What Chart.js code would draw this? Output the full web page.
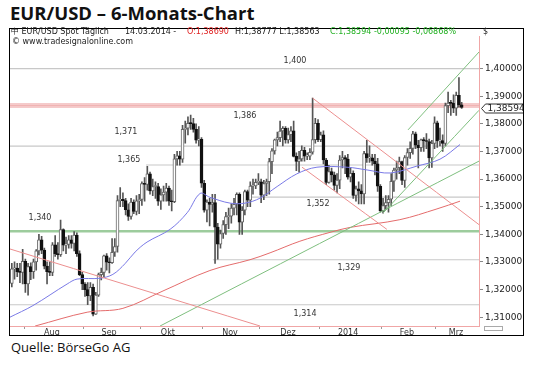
<!DOCTYPE html>
<html>
<head>
<meta charset="utf-8">
<script src="https://cdn.jsdelivr.net/npm/chart.js@4.4.1/dist/chart.umd.min.js"></script>
<style>
  body { margin: 0; width: 540px; height: 365px; background: #fff; position: relative; overflow: hidden; }
  #title { position: absolute; left: 10px; top: 1px; font: 700 18.5px/24px "Open Sans", sans-serif; color: #111; white-space: nowrap; }
  #frame { position: absolute; left: 9px; top: 28px; width: 513px; height: 306px; border: 1px solid #000; }
  #wrap { position: absolute; left: 10px; top: 29px; width: 513px; height: 306px; }
  .hd { position: absolute; font: 8px/10px "DejaVu Sans", sans-serif; color: #222; white-space: nowrap; }
  .red { color: #e02424; }
  .green { color: #22b022; }
  #source { position: absolute; left: 11px; top: 338px; font: 13px/18px "Open Sans", sans-serif; color: #111; white-space: nowrap; }
  #scroll { position: absolute; left: 484px; top: 326px; width: 17px; height: 3px; border: 1px solid #aaa; }
</style>
</head>
<body>
<div id="title">EUR/USD – 6-Monats-Chart</div>
<div id="frame"></div>
<div id="wrap"><canvas id="chart" width="513" height="306"></canvas></div>
<div class="hd" style="left:11px;top:27px;">中 EUR/USD Spot Täglich</div>
<div class="hd" style="left:125px;top:27px;">14.03.2014 -</div>
<div class="hd red" style="left:187px;top:27px;">O:1,38690</div>
<div class="hd" style="left:235px;top:27px;">H:1,38777 L:1,38563</div>
<div class="hd green" style="left:330px;top:27px;">C:1,38594 -0,00095 -0,06868%</div>
<div class="hd" style="left:483px;top:27px;">$</div>
<div class="hd" style="left:12px;top:37px;">© www.tradesignalonline.com</div>
<div id="source">Quelle: BörseGo AG</div>
<div id="scroll"></div>
<script>
// daily candles, 25.07.2013 – 14.03.2014 (index = trading day)
const opens = [
  1.3222,1.3275,1.3278,1.3264,1.3262,1.3302,1.3220,1.3283,1.3265,1.3300,
  1.3340,1.3380,1.3343,1.3285,1.3265,1.3262,1.3362,1.3330,1.3326,1.3417,
  1.3361,1.3363,1.3380,1.3367,1.3397,1.3330,1.3254,1.3220,1.3200,1.3177,
  1.3208,1.3111,1.3180,1.3254,1.3262,1.3322,1.3299,1.3297,1.3335,1.3356,
  1.3522,1.3527,1.3522,1.3489,1.3465,1.3517,1.3483,1.3521,1.3526,1.3584,
  1.3581,1.3619,1.3557,1.3573,1.3573,1.3520,1.3543,1.3553,1.3567,1.3520,
  1.3518,1.3673,1.3684,1.3672,1.3780,1.3784,1.3802,1.3801,1.3780,1.3741,
  1.3744,1.3585,1.3487,1.3517,1.3508,1.3515,1.3426,1.3364,1.3403,1.3435,
  1.3464,1.3466,1.3495,1.3509,1.3545,1.3444,1.3487,1.3555,1.3524,1.3575,
  1.3575,1.3588,1.3590,1.3542,1.3584,1.3591,1.3663,1.3702,1.3742,1.3750,
  1.3774,1.3784,1.3742,1.3761,1.3775,1.3682,1.3664,1.3673,1.3704,1.3683,
  1.3683,1.3697,1.3743,1.3802,1.3743,1.3760,1.3669,1.3588,1.3627,1.3615,
  1.3577,1.3596,1.3669,1.3678,1.3672,1.3607,1.3621,1.3541,1.3565,1.3557,
  1.3546,1.3692,1.3677,1.3677,1.3665,1.3655,1.3574,1.3486,1.3504,1.3515,
  1.3527,1.3592,1.3633,1.3641,1.3663,1.3595,1.3678,1.3696,1.3711,1.3764,
  1.3723,1.3714,1.3742,1.3739,1.3736,1.3677,1.3729,1.3804,1.3738,1.3739,
  1.3729,1.3866,1.3875,1.3874,1.3857,1.3903,1.3869
];
const highs = [
  1.3295,1.3300,1.3295,1.3295,1.3346,1.3310,1.3295,1.3297,1.3310,1.3345,
  1.3400,1.3393,1.3350,1.3300,1.3300,1.3370,1.3395,1.3370,1.3452,1.3420,
  1.3390,1.3395,1.3395,1.3410,1.3405,1.3340,1.3262,1.3225,1.3225,1.3225,
  1.3220,1.3190,1.3260,1.3278,1.3325,1.3330,1.3315,1.3385,1.3385,1.3540,
  1.3569,1.3550,1.3530,1.3510,1.3530,1.3525,1.3540,1.3545,1.3590,1.3605,
  1.3646,1.3625,1.3600,1.3590,1.3585,1.3565,1.3575,1.3585,1.3575,1.3560,
  1.3690,1.3700,1.3700,1.3795,1.3810,1.3825,1.3832,1.3820,1.3800,1.3790,
  1.3750,1.3595,1.3525,1.3530,1.3545,1.3545,1.3440,1.3415,1.3450,1.3480,
  1.3495,1.3510,1.3530,1.3550,1.3550,1.3500,1.3560,1.3560,1.3590,1.3600,
  1.3600,1.3620,1.3600,1.3595,1.3600,1.3675,1.3710,1.3745,1.3770,1.3810,
  1.3790,1.3790,1.3785,1.3790,1.3810,1.3695,1.3700,1.3720,1.3715,1.3695,
  1.3710,1.3893,1.3820,1.3815,1.3770,1.3775,1.3675,1.3650,1.3640,1.3625,
  1.3620,1.3685,1.3700,1.3685,1.3690,1.3640,1.3630,1.3575,1.3590,1.3580,
  1.3700,1.3740,1.3720,1.3690,1.3690,1.3675,1.3580,1.3530,1.3540,1.3540,
  1.3620,1.3640,1.3665,1.3680,1.3665,1.3685,1.3710,1.3735,1.3773,1.3770,
  1.3740,1.3745,1.3750,1.3765,1.3745,1.3740,1.3825,1.3810,1.3785,1.3760,
  1.3875,1.3915,1.3885,1.3905,1.3915,1.3967,1.3878
];
const lows = [
  1.3210,1.3238,1.3247,1.3225,1.3220,1.3190,1.3180,1.3236,1.3240,1.3270,
  1.3325,1.3330,1.3275,1.3220,1.3250,1.3250,1.3320,1.3310,1.3320,1.3340,
  1.3330,1.3350,1.3350,1.3340,1.3320,1.3250,1.3200,1.3175,1.3145,1.3160,
  1.3105,1.3110,1.3175,1.3235,1.3245,1.3270,1.3260,1.3295,1.3320,1.3335,
  1.3500,1.3500,1.3470,1.3450,1.3455,1.3475,1.3470,1.3475,1.3505,1.3520,
  1.3560,1.3545,1.3540,1.3530,1.3505,1.3490,1.3520,1.3520,1.3505,1.3485,
  1.3515,1.3650,1.3650,1.3660,1.3730,1.3760,1.3780,1.3770,1.3730,1.3720,
  1.3570,1.3480,1.3445,1.3430,1.3480,1.3295,1.3310,1.3350,1.3385,1.3400,
  1.3420,1.3440,1.3470,1.3470,1.3400,1.3400,1.3470,1.3500,1.3500,1.3545,
  1.3565,1.3580,1.3515,1.3525,1.3540,1.3545,1.3620,1.3690,1.3720,1.3735,
  1.3720,1.3730,1.3730,1.3735,1.3680,1.3630,1.3625,1.3665,1.3665,1.3670,
  1.3670,1.3690,1.3730,1.3735,1.3735,1.3655,1.3580,1.3585,1.3590,1.3560,
  1.3550,1.3565,1.3640,1.3620,1.3600,1.3590,1.3530,1.3520,1.3510,1.3510,
  1.3510,1.3660,1.3660,1.3650,1.3615,1.3555,1.3480,1.3477,1.3490,1.3480,
  1.3505,1.3555,1.3600,1.3620,1.3580,1.3570,1.3650,1.3675,1.3690,1.3710,
  1.3640,1.3700,1.3700,1.3710,1.3640,1.3642,1.3710,1.3715,1.3720,1.3700,
  1.3720,1.3840,1.3830,1.3840,1.3830,1.3860,1.3856
];
const closes = [
  1.3275,1.3278,1.3264,1.3262,1.3302,1.3220,1.3283,1.3265,1.3300,1.3340,
  1.3380,1.3343,1.3285,1.3265,1.3262,1.3362,1.3330,1.3326,1.3417,1.3361,
  1.3363,1.3380,1.3367,1.3397,1.3330,1.3254,1.3220,1.3200,1.3177,1.3208,
  1.3111,1.3180,1.3254,1.3262,1.3322,1.3299,1.3297,1.3335,1.3356,1.3522,
  1.3527,1.3522,1.3489,1.3465,1.3517,1.3483,1.3521,1.3526,1.3584,1.3581,
  1.3619,1.3557,1.3573,1.3573,1.3520,1.3543,1.3553,1.3567,1.3520,1.3518,
  1.3673,1.3684,1.3672,1.3780,1.3784,1.3802,1.3801,1.3780,1.3741,1.3744,
  1.3585,1.3487,1.3517,1.3508,1.3515,1.3426,1.3364,1.3403,1.3435,1.3464,
  1.3466,1.3495,1.3509,1.3545,1.3444,1.3487,1.3555,1.3524,1.3575,1.3575,
  1.3588,1.3590,1.3542,1.3584,1.3591,1.3663,1.3702,1.3742,1.3750,1.3774,
  1.3784,1.3742,1.3761,1.3775,1.3682,1.3664,1.3673,1.3704,1.3683,1.3683,
  1.3697,1.3743,1.3802,1.3743,1.3760,1.3669,1.3588,1.3627,1.3615,1.3577,
  1.3596,1.3669,1.3678,1.3672,1.3607,1.3621,1.3541,1.3565,1.3557,1.3546,
  1.3692,1.3677,1.3677,1.3665,1.3655,1.3574,1.3486,1.3504,1.3515,1.3527,
  1.3592,1.3633,1.3641,1.3663,1.3595,1.3678,1.3696,1.3711,1.3764,1.3723,
  1.3714,1.3742,1.3739,1.3736,1.3677,1.3729,1.3804,1.3738,1.3739,1.3729,
  1.3866,1.3875,1.3874,1.3857,1.3903,1.3869,1.3859
];

// moving averages: [day index, price]
const maBlue = [
  [-0.7,1.3100],[7.8,1.3142],[20.4,1.3220],[24.1,1.3238],[32.5,1.3241],[37.3,1.3255],
  [41.8,1.3294],[45.5,1.3336],[49.9,1.3372],[58.4,1.3418],[64.7,1.3478],[69.5,1.3548],
  [73.1,1.3534],[80.5,1.3513],[86.1,1.3513],[91.6,1.3531],[97.9,1.3573],[105.2,1.3619],
  [112.6,1.3643],[123.7,1.3643],[131.1,1.3633],[139.6,1.3622],[149.5,1.3647],[158.0,1.3672],
  [165.4,1.3725]
];
const maRed = [
  [8.6,1.3068],[27.8,1.3118],[41.0,1.3132],[55.8,1.3195],[73.1,1.3269],[87.9,1.3308],
  [95.3,1.3333],[106.3,1.3375],[117.4,1.3407],[124.8,1.3425],[143.2,1.3453],[156.9,1.3492],
  [165.4,1.3520]
];

// trend lines: [day index, price]
const redFall = [[-0.7,1.3347],[91.6,1.3068]];
const redChanTop = [[111,1.3893],[172.4,1.3435]];
const redChanLow = [[107.1,1.3643],[138.4,1.3418]];
const greenLong = [[54.7,1.3068],[172.4,1.3665]];
const greenChanLow = [[137,1.3477],[172.4,1.3849]];
const greenChanTop = [[146.2,1.3778],[172.4,1.4060]];

// horizontal levels
const levelValues = [1.4000, 1.3866, 1.3719, 1.3651, 1.3535, 1.3411, 1.3308, 1.3145];
const levelFrom   = [-0.7, -0.7, -0.7, 49.5, 88, -0.7, 74.2, -0.7];
const levelText   = ['1,400', '1,386', '1,371', '1,365', '1,352', '1,340', '1,329', '1,314'];

// axes
const yTicks = [1.31, 1.32, 1.33, 1.34, 1.35, 1.36, 1.37, 1.38, 1.39, 1.40];
const monthEdges = [4.5, 26.5, 47.5, 70.5, 91.5, 113.5, 136.5, 156.5];
const monthSpots = [14.8, 35.9, 57.6, 80.5, 101.9, 124.1, 145.8, 163.9];
const monthNames = ['Aug', 'Sep', 'Okt', 'Nov', 'Dez', '2014', 'Feb', 'Mrz'];
const lastQuote = '1,38594';

const X_MIN = -0.67, X_MAX = 172.4;

// where the level captions sit: [day index, px offset from the line]
const labelSpots = [[104.5,-8],[86,10],[42.1,-14],[43.2,-5],[113,7],[10.4,-13],[124.4,8],[108.2,9]];
const levelStyle = [
  { c: '#c8c8c8', w: 1.2 }, { c: '#f5caca', w: 5 }, { c: '#c8c8c8', w: 1.2 }, { c: '#c8c8c8', w: 1.2 },
  { c: '#c8c8c8', w: 1.2 }, { c: '#9dcc9d', w: 2.5 }, { c: '#c8c8c8', w: 1.2 }, { c: '#c8c8c8', w: 1.2 }
];

const pts = arr => arr.map(([x, y]) => ({ x, y }));
const lineDs = (arr, color, width, order) => ({
  type: 'line', data: pts(arr), borderColor: color, borderWidth: width,
  pointRadius: 0, tension: 0.35, fill: false, order
});

const datasets = [];
levelValues.forEach((v, k) => {
  datasets.push(lineDs([[levelFrom[k], v], [X_MAX, v]], levelStyle[k].c, levelStyle[k].w, 10));
});
datasets.push(lineDs([[-0.7, 1.3866], [X_MAX, 1.3866]], '#eeaaaa', 0.8, 9));

datasets.push({
  type: 'bar', grouped: false, order: 5,
  data: closes.map((c, i) => ({ x: i, y: [lows[i], highs[i]] })),
  backgroundColor: '#555', barThickness: 1
});
datasets.push({
  type: 'bar', grouped: false, order: 4,
  data: closes.map((c, i) => ({ x: i, y: [opens[i], c] })),
  backgroundColor: closes.map((c, i) => c >= opens[i] ? '#ffffff' : '#111111'),
  borderColor: closes.map((c, i) => c >= opens[i] ? '#666666' : '#111111'),
  borderWidth: 1, borderSkipped: false, barThickness: 3, minBarLength: 1
});

datasets.push(lineDs(maBlue, '#7a7ae6', 1, 2));
datasets.push(lineDs(maRed, '#e46c6c', 1, 2));
datasets.push(lineDs(redFall, '#ec8f8f', 1, 1));
datasets.push(lineDs(redChanTop, '#ec8f8f', 1, 1));
datasets.push(lineDs(redChanLow, '#ec8f8f', 1, 1));
datasets.push(lineDs(greenLong, '#7fbf7f', 1, 1));
datasets.push(lineDs(greenChanLow, '#7fbf7f', 1, 1));
datasets.push(lineDs(greenChanTop, '#7fbf7f', 1, 1));

const levelLabels = {
  id: 'levelLabels',
  afterDatasetsDraw(chart) {
    const { ctx, scales: { x, y } } = chart;
    ctx.save();
    ctx.font = '8px "DejaVu Sans"';
    ctx.fillStyle = '#333';
    ctx.textAlign = 'center';
    ctx.textBaseline = 'middle';
    levelText.forEach((t, k) => {
      ctx.fillText(t, x.getPixelForValue(labelSpots[k][0]), y.getPixelForValue(levelValues[k]) + labelSpots[k][1]);
    });
    ctx.restore();
  }
};

const quoteBox = {
  id: 'quoteBox',
  afterDraw(chart) {
    const { ctx, chartArea, scales: { y } } = chart;
    const py = Math.round(y.getPixelForValue(closes[closes.length - 1])) + 0.5;
    const x0 = chartArea.right + 2.5, x1 = chart.width + 2;
    ctx.save();
    ctx.beginPath();
    ctx.moveTo(x0, py);
    ctx.lineTo(x0 + 4, py - 4.5);
    ctx.lineTo(x1, py - 4.5);
    ctx.lineTo(x1, py + 4.5);
    ctx.lineTo(x0 + 4, py + 4.5);
    ctx.closePath();
    ctx.fillStyle = '#fff';
    ctx.fill();
    ctx.strokeStyle = '#333';
    ctx.lineWidth = 1;
    ctx.stroke();
    ctx.font = '9px "DejaVu Sans"';
    ctx.fillStyle = '#222';
    ctx.textBaseline = 'middle';
    ctx.fillText(lastQuote, x0 + 6, py + 0.5);
    ctx.restore();
  }
};

new Chart(document.getElementById('chart'), {
  type: 'bar',
  data: { datasets },
  options: {
    responsive: false, animation: false, devicePixelRatio: 1,
    layout: { padding: 0 },
    plugins: { legend: { display: false }, tooltip: { enabled: false } },
    scales: {
      x: {
        type: 'linear', min: X_MIN, max: X_MAX, offset: false,
        afterBuildTicks: s => {
          s.ticks = monthEdges.concat(monthSpots).sort((a, b) => a - b).map(v => ({ value: v }));
        },
        afterFit: s => { s.height = 9; },
        ticks: {
          autoSkip: false, maxRotation: 0, padding: -1, color: '#333',
          font: { family: 'DejaVu Sans', size: 8 },
          callback: v => { const k = monthSpots.indexOf(v); return k >= 0 ? monthNames[k] : ''; }
        },
        grid: {
          offset: false, drawOnChartArea: false, tickLength: 3,
          tickColor: c => monthEdges.includes(c.tick && c.tick.value) ? '#999' : 'rgba(0,0,0,0)'
        },
        border: { color: '#f0a6a6' }
      },
      y: {
        type: 'linear', position: 'right', min: 1.30681, max: 1.41165,
        afterBuildTicks: s => { s.ticks = yTicks.map(v => ({ value: v })); },
        afterFit: s => { s.width = 44; },
        ticks: {
          padding: 2, color: '#222', font: { family: 'DejaVu Sans', size: 9 },
          callback: v => v.toFixed(5).replace('.', ',')
        },
        grid: { drawOnChartArea: false, tickLength: 4, tickColor: '#888' },
        border: { color: '#f0a6a6' }
      }
    }
  },
  plugins: [levelLabels, quoteBox]
});
</script>
</body>
</html>
